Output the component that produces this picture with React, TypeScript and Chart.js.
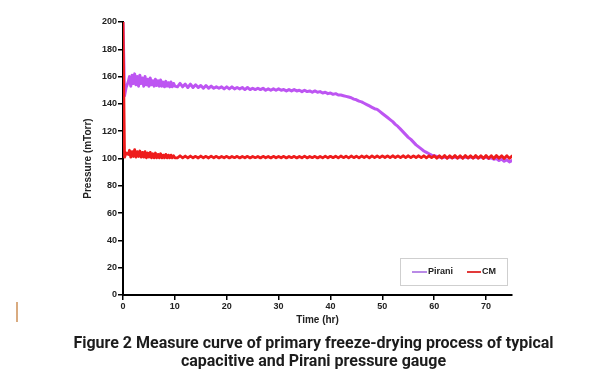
import React, { useEffect, useRef } from "react";
import { Chart, registerables } from "chart.js";

Chart.register(...registerables);

const SERIES_NAMES = ["Pirani", "CM"];
const X_TITLE = "Time (hr)";
const Y_TITLE = "Pressure (mTorr)";
const CAPTION_1 = "Figure 2 Measure curve of primary freeze-drying process of typical";
const CAPTION_2 = "capacitive and Pirani pressure gauge";

// time axis (hours): 0, 0.3, 0.6, then every quarter hour from 1 to 10, then every half hour to 75
const HOURS: number[] = [
  0, 0.3, 0.6,
  ...Array.from({ length: 37 }, (_, i) => 1 + i * 0.25),
  ...Array.from({ length: 130 }, (_, i) => 10.5 + i * 0.5),
];

const PIRANI: number[] = [
  200, 146, 152,
  // 1 .. 10 (quarter hours)
  156, 160, 153, 161, 155, 162, 154, 160, 153, 161, 155, 159, 153, 160, 154, 158, 153, 159, 154, 157,
  153, 158, 153.5, 157, 153, 157.5, 153, 156, 152.5, 156.5, 153, 155.5, 152.5, 156, 152.5, 155, 153,
  // 10.5 .. 20
  152.5, 155, 152.5, 154.5, 152, 154.5, 152, 154, 152, 153.5, 151.5, 153.5, 151.5, 153, 151.5, 152.5, 151.5, 152.5, 151, 152.5,
  // 20.5 .. 30
  151, 152.5, 151, 152, 151, 152, 150.5, 152, 150.5, 151.5, 150.5, 151.5, 150.5, 151.5, 150, 151, 150, 151, 150, 151,
  // 30.5 .. 40
  150, 150.5, 149.5, 150.5, 149.5, 150.5, 149.5, 150, 149, 150, 149, 149.5, 148.5, 149.5, 148.5, 149, 148, 148.5, 147.5, 148,
  // 40.5 .. 50
  147, 147.5, 146.5, 146.5, 146, 145.5, 145, 144.5, 143.5, 143, 142, 141.5, 140.5, 139.5, 138.5, 137.5, 136.5, 136, 134.5, 133,
  // 50.5 .. 60
  131.5, 130, 128.5, 127, 125, 123.5, 121.5, 119.5, 117.5, 115.5, 114, 112, 110, 108.5, 107, 105.5, 104.5, 103.5, 102.5, 102,
  // 60.5 .. 70
  101.5, 101, 100.5, 101, 100.5, 101, 100.5, 101, 100.5, 101, 100.5, 101, 100.5, 101, 100.5, 101, 100.5, 101, 100.5, 101,
  // 70.5 .. 75
  100, 100.5, 99.5, 100, 98.5, 99.5, 98, 99, 97.5, 98.5,
];

const CM: number[] = [
  200, 101, 104,
  // 1 .. 10 (quarter hours)
  103, 106, 101, 105, 101.5, 106.5, 101, 105, 101.5, 105.5, 101, 104.5, 101, 105, 100.5, 104, 101, 104.5, 100.5, 103.5,
  100.5, 104, 100.5, 103, 100.5, 103.5, 100.5, 102.5, 100.5, 103, 100.5, 102.5, 100.5, 102.5, 100.5, 102, 100.5,
  // 10.5 .. 20
  100.5, 102, 100.5, 101.8, 100.4, 101.8, 100.5, 101.6, 100.4, 101.8, 100.5, 101.6, 100.4, 101.7, 100.5, 101.6, 100.4, 101.5, 100.5, 101.6,
  // 20.5 .. 30
  100.4, 101.5, 100.6, 101.6, 100.4, 101.5, 100.5, 101.6, 100.4, 101.5, 100.6, 101.5, 100.4, 101.6, 100.5, 101.5, 100.4, 101.6, 100.5, 101.5,
  // 30.5 .. 40
  100.5, 101.6, 100.4, 101.5, 100.6, 101.6, 100.4, 101.5, 100.5, 101.7, 100.4, 101.5, 100.6, 101.6, 100.4, 101.5, 100.5, 101.7, 100.5, 101.6,
  // 40.5 .. 50
  100.6, 101.7, 100.5, 101.8, 100.6, 101.7, 100.5, 101.8, 100.6, 101.7, 100.5, 101.8, 100.7, 101.8, 100.5, 101.9, 100.6, 101.8, 100.6, 101.9,
  // 50.5 .. 60
  100.7, 101.9, 100.6, 102, 100.7, 101.9, 100.6, 102, 100.7, 102, 100.6, 101.9, 100.7, 102, 100.6, 102, 100.5, 102, 100.6, 102,
  // 60.5 .. 70
  100.2, 102, 100.3, 102.2, 100.1, 102, 100.3, 102.2, 100.2, 102.1, 100.1, 102.2, 100.3, 102, 100.1, 102.2, 100.2, 102.1, 100, 102.2,
  // 70.5 .. 75
  100.1, 102.1, 100, 102.2, 100.2, 102, 100, 102.1, 100.1, 101.8,
];

const X_TICK_STEP = 10;
const X_MAX = 75;
const Y_TICK_STEP = 20;
const Y_MAX = 200;

const PIRANI_COLOR = "#bd55f2";
const CM_COLOR = "#ee1c1c";
const PIRANI_LEGEND_COLOR = "#b98ae6";
const CM_LEGEND_COLOR = "#e23a3a";

const legendPlugin = {
  id: "boxLegend",
  afterDraw(chart: any) {
    const { ctx, chartArea } = chart;
    const bx = chartArea.right - 112;
    const by = chartArea.bottom - 37;
    const bw = 107;
    const bh = 27;
    ctx.save();
    ctx.fillStyle = "#ffffff";
    ctx.fillRect(bx, by, bw, bh);
    ctx.strokeStyle = "#cfcfcf";
    ctx.lineWidth = 1;
    ctx.strokeRect(bx + 0.5, by + 0.5, bw, bh);
    const cy = by + bh / 2 + 0.5;
    ctx.font = "bold 9px 'Liberation Sans', Arial, sans-serif";
    ctx.textBaseline = "middle";
    ctx.fillStyle = "#222";
    ctx.lineWidth = 2;
    ctx.strokeStyle = PIRANI_LEGEND_COLOR;
    ctx.beginPath();
    ctx.moveTo(bx + 12, cy);
    ctx.lineTo(bx + 27, cy);
    ctx.stroke();
    ctx.fillText(SERIES_NAMES[0], bx + 28, cy);
    ctx.strokeStyle = CM_LEGEND_COLOR;
    ctx.beginPath();
    ctx.moveTo(bx + 67, cy);
    ctx.lineTo(bx + 81, cy);
    ctx.stroke();
    ctx.fillText(SERIES_NAMES[1], bx + 82, cy);
    ctx.restore();
  },
};

function ChartCanvas() {
  const ref = useRef<HTMLCanvasElement | null>(null);
  useEffect(() => {
    if (!ref.current) return;
    const tickFont = { family: "'Liberation Sans', Arial, sans-serif", size: 9, weight: "bold" as const };
    const titleFont = { family: "'Liberation Sans', Arial, sans-serif", size: 10, weight: "bold" as const };
    const chart = new Chart(ref.current, {
      type: "line",
      data: {
        datasets: [
          {
            label: SERIES_NAMES[1],
            data: HOURS.map((t, i) => ({ x: t, y: CM[i] })),
            borderColor: CM_COLOR,
            borderWidth: 2.8,
            borderJoinStyle: "round",
            borderCapStyle: "round",
            pointRadius: 0,
            tension: 0,
          },
          {
            label: SERIES_NAMES[0],
            data: HOURS.map((t, i) => ({ x: t, y: PIRANI[i] })),
            borderColor: PIRANI_COLOR,
            borderWidth: 3,
            borderJoinStyle: "round",
            borderCapStyle: "round",
            pointRadius: 0,
            tension: 0,
          },
        ],
      },
      options: {
        animation: false,
        responsive: false,
        maintainAspectRatio: false,
        layout: { padding: { left: 78, right: 99, top: 22, bottom: 5 } },
        plugins: { legend: { display: false }, tooltip: { enabled: false } },
        scales: {
          x: {
            type: "linear",
            min: 0,
            max: X_MAX,
            afterFit: (s: any) => {
              s.height = 35;
            },
            ticks: {
              stepSize: X_TICK_STEP,
              includeBounds: false,
              color: "#222",
              font: tickFont,
              padding: 1,
              maxRotation: 0,
            },
            grid: { display: true, drawOnChartArea: false, drawTicks: true, tickLength: 5, color: "#000", lineWidth: 1.5 },
            border: { display: true, color: "#000", width: 2 },
            title: { display: true, text: X_TITLE, color: "#222", font: titleFont, padding: { top: 2, bottom: 4 } },
          },
          y: {
            type: "linear",
            min: 0,
            max: Y_MAX,
            afterFit: (s: any) => {
              s.width = 45;
            },
            ticks: { stepSize: Y_TICK_STEP, color: "#222", font: tickFont, padding: 1 },
            grid: { display: true, drawOnChartArea: false, drawTicks: true, tickLength: 5, color: "#000", lineWidth: 1.5 },
            border: { display: true, color: "#000", width: 2 },
            title: { display: true, text: Y_TITLE, color: "#222", font: titleFont, padding: { top: 4, bottom: 2 } },
          },
        },
      },
      plugins: [legendPlugin],
    });
    return () => chart.destroy();
  }, []);
  return <canvas ref={ref} width={611} height={335} style={{ position: "absolute", left: 0, top: 0, width: 611, height: 335 }} />;
}

export default function App() {
  return (
    <div style={{ position: "fixed", left: 0, top: 0, width: 611, height: 392, background: "#fff", overflow: "hidden" }}>
      <ChartCanvas />
      <div style={{ position: "absolute", left: 16, top: 302, width: 2, height: 20, background: "#d9ab80" }} />
      <div
        style={{
          position: "absolute",
          left: 0,
          top: 334,
          width: 627,
          textAlign: "center",
          fontFamily: "Roboto, 'Liberation Sans', sans-serif",
          fontWeight: 700,
          fontSize: 16,
          lineHeight: "18px",
          color: "#1c1c1c",
          whiteSpace: "nowrap",
        }}
      >
        <div>{CAPTION_1}</div>
        <div>{CAPTION_2}</div>
      </div>
    </div>
  );
}
